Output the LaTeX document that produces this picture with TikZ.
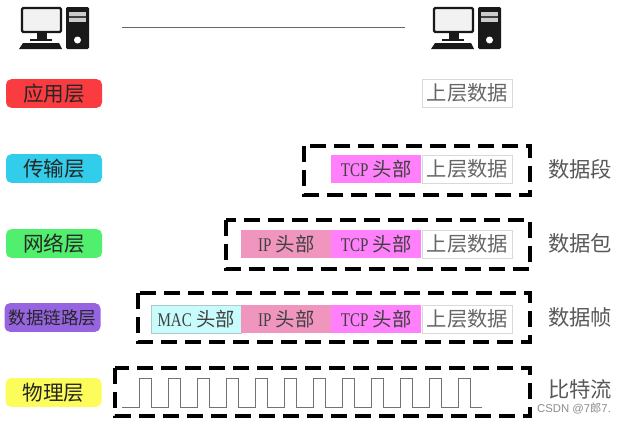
\documentclass[tikz,border=0pt]{standalone}
\usepackage{fontspec}
\setmainfont{Noto Sans CJK SC}
\newfontfamily\latinserif[FakeStretch=0.78]{Liberation Serif}
\newfontfamily\wmfont{Liberation Sans}
\tikzset{
  x=0.75pt,y=-0.75pt,
  layerbox/.style={rounded corners=4pt,minimum width=72pt,minimum height=21.5pt,inner sep=0pt,text=black!85,font=\fontsize{15.5pt}{16pt}\selectfont},
  cell/.style={minimum width=67.5pt,minimum height=21pt,inner sep=0pt,text=black!75,font=\fontsize{14.5pt}{15pt}\selectfont,anchor=west},
  datacell/.style={cell,fill=white,draw=black!15,line width=0.5pt,text=black!60,font=\fontsize{15.2pt}{16pt}\selectfont},
  tcpcell/.style={cell,fill=tcpc},
  ipcell/.style={cell,fill=ipc},
  maccell/.style={cell,fill=macc,draw=macc!70!black!70,line width=0.3pt},
  frame/.style={draw=black,line width=2.7pt,dash pattern=on 12pt off 6pt},
  pduname/.style={text=black!65,font=\fontsize{16pt}{17pt}\selectfont},
  wave/.style={draw=black!55,line width=0.6pt},
  pcicon/.pic={
    \draw[black!90,fill=black!5,line width=1.7pt,rounded corners=1pt] (-25,-19) rectangle (14,5);
    \fill[black!90] (-10,6) rectangle (0,12);
    \fill[black!90] (-17,12) rectangle (5,14);
    \fill[black!90] (-24,16) -- (12,16) -- (15,22) -- (-28,22) -- cycle;
    \fill[black!90,rounded corners=1pt] (19,-20) rectangle (42,22);
    \fill[black!20] (22,-15) rectangle (39,-5);
    \fill[black!75] (22,-11) rectangle (39,-9);
    \fill[white] (30.5,13) circle (3.5);
  }
}
\definecolor{tcpc}{RGB}{255,128,250}
\definecolor{ipc}{RGB}{240,150,190}
\definecolor{macc}{RGB}{200,252,252}
\definecolor{redc}{RGB}{250,60,65}
\definecolor{bluec}{RGB}{50,205,235}
\definecolor{greenc}{RGB}{80,240,110}
\definecolor{purplec}{RGB}{150,100,225}
\definecolor{yellowc}{RGB}{252,252,90}
\newcommand{\tcpl}{{\latinserif TCP} 头部}
\newcommand{\ipl}{{\latinserif IP} 头部}
\newcommand{\macl}{{\latinserif MAC} 头部}
\begin{document}
\begin{tikzpicture}
\useasboundingbox[fill=white] (0,0) rectangle (625,421);
\pic at (47,27) {pcicon};
\pic at (459,27) {pcicon};
\coordinate (lineA) at (122,27.5);
\coordinate (lineB) at (405,27.5);
\draw[black!60,line width=0.6pt] (lineA) -- (lineB);
% layers
\node[layerbox,fill=redc] (app) at (54,93.5) {应用层};
\node[layerbox,fill=bluec] (trans) at (54,168.5) {传输层};
\node[layerbox,fill=greenc] (net) at (54,243.5) {网络层};
\node[layerbox,fill=purplec,font=\fontsize{13.2pt}{14pt}\selectfont] (link) at (52.5,317.5) {数据链路层};
\node[layerbox,fill=yellowc] (phy) at (53.5,392.5) {物理层};
% frames
\draw[frame] (304,146) rectangle (530,195);
\draw[frame] (226,220) rectangle (530,269);
\draw[frame] (138,293) rectangle (530,342);
\draw[frame] (115,368) rectangle (530,416);
% row 1
\node[datacell] (d1) at (422,93) {上层数据};
% row 2
\node[tcpcell] (t2) at (331,169) {\tcpl};
\node[datacell] (d2) at (422,169) {上层数据};
% row 3
\node[ipcell] (i3) at (241,244) {\ipl};
\node[tcpcell] (t3) at (331,244) {\tcpl};
\node[datacell] (d3) at (422,244) {上层数据};
% row 4
\node[maccell] (m4) at (151,319) {\macl};
\node[ipcell] (i4) at (241,319) {\ipl};
\node[tcpcell] (t4) at (331,319) {\tcpl};
\node[datacell] (d4) at (422,319) {上层数据};
% pdu names
\node[pduname] (n2) at (580,169) {数据段};
\node[pduname] (n3) at (580,243) {数据包};
\node[pduname] (n4) at (580,317) {数据帧};
\node[pduname] (n5) at (580,389) {比特流};
% wave
\draw[wave] (122,407)
 \foreach \i in {0,...,11} { -- ({139+29*\i},407) -- ({139+29*\i},378) -- ({151+29*\i},378) -- ({151+29*\i},407) } -- (482,407);
% watermark
\node[text=black!45,font=\fontsize{8.5pt}{9pt}\selectfont] (wm) at (574,409) {{\wmfont CSDN @7}郎{\wmfont 7.}};
\end{tikzpicture}
\end{document}
